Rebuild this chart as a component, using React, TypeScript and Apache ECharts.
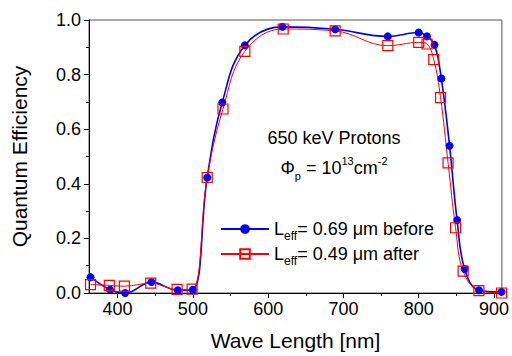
import React, { useEffect, useRef } from "react";
import * as echarts from "echarts";

const wavelengthsBefore = [364, 390, 410, 445, 480, 500, 519, 539, 569, 619, 689, 759, 800, 811, 821, 830, 841, 851, 861, 880, 910];
const qeBefore = [0.058, 0.012, 0.0, 0.04, 0.01, 0.012, 0.423, 0.698, 0.907, 0.975, 0.966, 0.94, 0.954, 0.94, 0.909, 0.786, 0.539, 0.267, 0.088, 0.01, 0.004];
const wavelengthsAfter = [364, 389, 409, 444, 479, 499, 519, 540, 569, 620, 689, 759, 800, 811, 820, 829, 839, 849, 859, 880, 910];
const qeAfter = [0.031, 0.028, 0.025, 0.036, 0.013, 0.014, 0.423, 0.674, 0.885, 0.967, 0.96, 0.906, 0.918, 0.912, 0.855, 0.716, 0.477, 0.239, 0.08, 0.009, 0.0];

const xMajorTicks = [400, 500, 600, 700, 800, 900];
const xMinorTicks = [450, 550, 650, 750, 850];

const seriesNames = ["before", "after"];
const legendLabels = ["= 0.69 μm before", "= 0.49 μm after"];

const FONT = "Liberation Sans, Arial, sans-serif";

export default function App() {
  const ref = useRef<HTMLDivElement>(null);
  useEffect(() => {
    if (!ref.current) return;
    const chart = echarts.init(ref.current, null, { renderer: "svg" });
    const legendRich = {
      a: { fontSize: 18, lineHeight: 18, padding: [4, 0, 4, 0], color: "#000", fontFamily: FONT },
      s: { fontSize: 12, lineHeight: 12, padding: [14, 0, 0, 0], color: "#000", fontFamily: FONT },
    };
    const makeLegend = (i: number, top: number) => ({
      data: [seriesNames[i]],
      orient: "vertical",
      left: 220,
      top,
      itemWidth: 48,
      itemHeight: 12,
      padding: 0,
      formatter: () => `{a|L}{s|eff}{a|${legendLabels[i]}}`,
      textStyle: { rich: legendRich, fontFamily: FONT },
    });
    chart.setOption({
      animation: false,
      grid: { left: 89, right: 7, top: 20, bottom: 60, show: true, borderColor: "#555", borderWidth: 1 },
      xAxis: [
        {
          type: "value",
          min: 362,
          max: 910.5,
          name: "Wave Length [nm]",
          nameLocation: "middle",
          nameGap: 37,
          nameTextStyle: { fontSize: 21, color: "#000", fontFamily: FONT },
          axisLine: { lineStyle: { color: "#000", width: 1 } },
          axisTick: { show: true, length: 5, customValues: xMajorTicks, lineStyle: { color: "#000" } },
          axisLabel: { customValues: xMajorTicks, fontSize: 18, color: "#000", fontFamily: FONT, margin: 7 },
          splitLine: { show: false },
        },
        {
          type: "value",
          min: 362,
          max: 910.5,
          position: "bottom",
          axisLine: { show: false },
          axisTick: { show: true, length: 3, customValues: xMinorTicks, lineStyle: { color: "#000" } },
          axisLabel: { show: false },
          splitLine: { show: false },
        },
      ],
      yAxis: {
        type: "value",
        min: 0,
        max: 1,
        interval: 0.2,
        name: "Quantum Efficiency",
        nameLocation: "middle",
        nameGap: 59,
        nameTextStyle: { fontSize: 21, color: "#000", fontFamily: FONT },
        axisLine: { show: true, lineStyle: { color: "#000", width: 1 } },
        axisTick: { show: true, length: 5, lineStyle: { color: "#000" } },
        minorTick: { show: true, splitNumber: 2, length: 3, lineStyle: { color: "#000" } },
        axisLabel: { fontSize: 18, color: "#000", fontFamily: FONT, margin: 8, formatter: (v: number) => v.toFixed(1) },
        splitLine: { show: false },
      },
      legend: [makeLegend(0, 216), makeLegend(1, 241)],
      graphic: [
        {
          type: "text",
          x: 334,
          y: 138,
          style: {
            text: "650 keV Protons",
            fontSize: 18,
            fontFamily: FONT,
            fill: "#000",
            align: "center",
            verticalAlign: "middle",
          },
        },
        {
          type: "text",
          x: 334,
          y: 168,
          style: {
            text: "{a|Φ}{sub|p}{a| = 10}{sup|13}{a|cm}{sup|-2}",
            align: "center",
            verticalAlign: "middle",
            fill: "#000",
            rich: {
              a: { fontSize: 18, lineHeight: 18, padding: [4, 0, 4, 0], fontFamily: FONT, fill: "#000" },
              sub: { fontSize: 11, lineHeight: 11, padding: [15, 0, 0, 0], fontFamily: FONT, fill: "#000" },
              sup: { fontSize: 11, lineHeight: 11, padding: [0, 0, 15, 0], fontFamily: FONT, fill: "#000" },
            },
          },
        },
      ],
      series: [
        {
          name: seriesNames[0],
          type: "line",
          data: wavelengthsBefore.map((w, i) => [w, qeBefore[i]]),
          smooth: 0.4,
          clip: false,
          symbol: "circle",
          symbolSize: 8,
          itemStyle: { color: "#0000ff" },
          lineStyle: { color: "#0000ff", width: 1.6 },
        },
        {
          name: seriesNames[1],
          type: "line",
          data: wavelengthsAfter.map((w, i) => [w, qeAfter[i]]),
          smooth: 0.4,
          clip: false,
          symbol: "rect",
          symbolSize: 10,
          itemStyle: { color: "rgba(0,0,0,0)", borderColor: "#ff0000", borderWidth: 1.2 },
          lineStyle: { color: "#ff0000", width: 1 },
        },
      ],
    });
    return () => chart.dispose();
  }, []);
  return <div ref={ref} style={{ width: 512, height: 356, position: "absolute", left: 0, top: 0 }} />;
}
